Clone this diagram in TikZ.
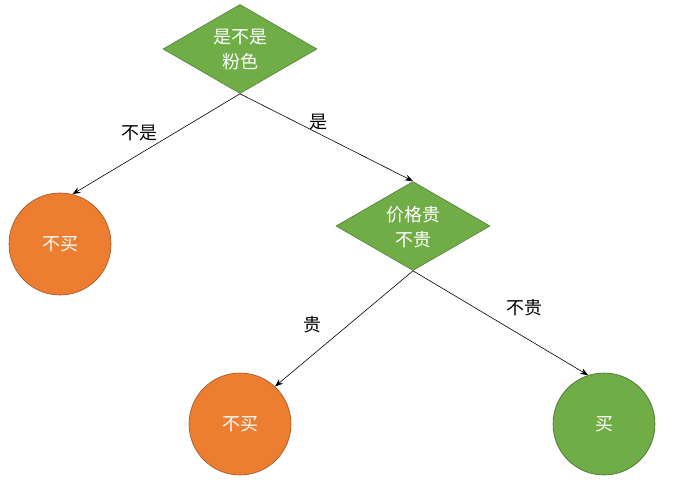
\documentclass[tikz,border=0pt]{standalone}
\usepackage{fontspec}
\newfontfamily\cjk{Noto Sans CJK SC}
\usetikzlibrary{shapes.geometric,arrows.meta}
\definecolor{gfill}{HTML}{70AD47}
\definecolor{gline}{HTML}{507E32}
\definecolor{ofill}{HTML}{ED7D31}
\definecolor{oline}{HTML}{9E5220}
\begin{document}
\begin{tikzpicture}[x=1pt,y=-1pt,
  txt/.style={font=\cjk\fontsize{18}{25}\selectfont},
  dec/.style={diamond,shape aspect=1.73,minimum width=154pt,minimum height=89pt,inner sep=0pt,
    fill=gfill,draw=gline,line width=0.6pt,text=white,align=center,txt},
  leafo/.style={circle,minimum size=102pt,inner sep=0pt,fill=ofill,draw=oline,line width=0.6pt,text=white,txt},
  leafg/.style={circle,minimum size=102pt,inner sep=0pt,fill=gfill,draw=gline!80!black,line width=0.6pt,text=white,txt},
  edge/.style={-{Stealth[length=8pt,width=6pt]},line width=0.6pt},
  lab/.style={txt,text=black}]
\useasboundingbox (0,0) rectangle (696,500);
\node[dec] (d1) at (240,49) {};
\node[txt,text=white,align=center] (t1) at (240,50) {是不是\\粉色};
\node[dec] (d2) at (413,226) {};
\node[txt,text=white,align=center] (t2) at (413,227) {价格贵\\不贵};
\node[leafo] (c1) at (60,244) {不买};
\node[leafo] (c2) at (240,424) {不买};
\node[leafg] (c3) at (604,424) {买};
\draw[edge] (d1.south) -- (c1.76);
\draw[edge] (d1.south) -- (d2.north);
\draw[edge] (d2.south) -- (c2.47);
\draw[edge] (d2.south) -- (c3.108);
\node[lab] (l1) at (139,133) {不是};
\node[lab] (l2) at (318,122) {是};
\node[lab] (l3) at (312,325) {贵};
\node[lab] (l4) at (524,308) {不贵};
\end{tikzpicture}
\end{document}
